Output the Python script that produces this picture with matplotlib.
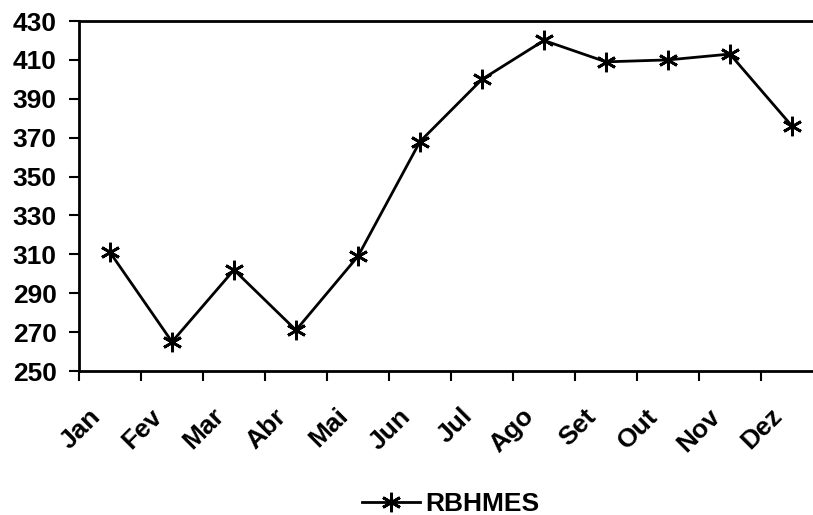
import numpy as np
import matplotlib.pyplot as plt
from matplotlib.ticker import FixedLocator, NullFormatter
from matplotlib.transforms import ScaledTranslation

# monthly values for the series
months = ['Jan', 'Fev', 'Mar', 'Abr', 'Mai', 'Jun', 'Jul', 'Ago', 'Set', 'Out', 'Nov', 'Dez']
rbhmes = [311, 265, 302, 271, 309, 368, 400, 420, 409, 410, 413, 376]
y_ticks = list(range(250, 431, 20))

plt.rcParams['font.family'] = ['Liberation Sans', 'DejaVu Sans']
plt.rcParams['font.weight'] = 'bold'


def main():
    fig = plt.figure(figsize=(8.13, 5.15), dpi=100)
    # plot area runs a little past the right edge of the figure
    ax = fig.add_axes([0.0972, 0.2796, 0.915, 0.6796])

    x = np.arange(len(months))
    ax.plot(x, rbhmes, color='black', linewidth=2,
            marker=(6, 2, 0), markersize=14, markeredgewidth=2,
            markeredgecolor='black', label='RBHMES')

    ax.set_xlim(-0.5, len(months) - 0.5)
    ax.set_ylim(250, 430)
    ax.set_yticks(y_ticks)

    # tick marks between categories, no tick labels on the axis itself
    ax.xaxis.set_major_locator(FixedLocator(np.arange(-0.5, len(months), 1.0)))
    ax.xaxis.set_major_formatter(NullFormatter())
    ax.tick_params(axis='both', which='major', direction='out', length=7,
                   width=1.5, labelsize=19)
    ax.tick_params(axis='y', pad=9)

    # month names, slanted, sitting left of each category centre
    offset = ScaledTranslation(-22 / 100, -33 / 100, fig.dpi_scale_trans)
    trans = ax.get_xaxis_transform() + offset
    for i, name in enumerate(months):
        ax.text(i, 0, name, transform=trans, rotation=45, ha='right', va='top',
                rotation_mode='anchor', fontsize=19, fontweight='bold',
                clip_on=False)

    for side in ['left', 'bottom', 'top', 'right']:
        ax.spines[side].set_linewidth(2)

    ax.legend(loc='center', bbox_to_anchor=(0.5, -0.38), frameon=False,
              handlelength=2.2, handletextpad=0.2,
              prop={'weight': 'bold', 'size': 19})

    fig.savefig('out.png', dpi=100)


if __name__ == "__main__":
    main()
